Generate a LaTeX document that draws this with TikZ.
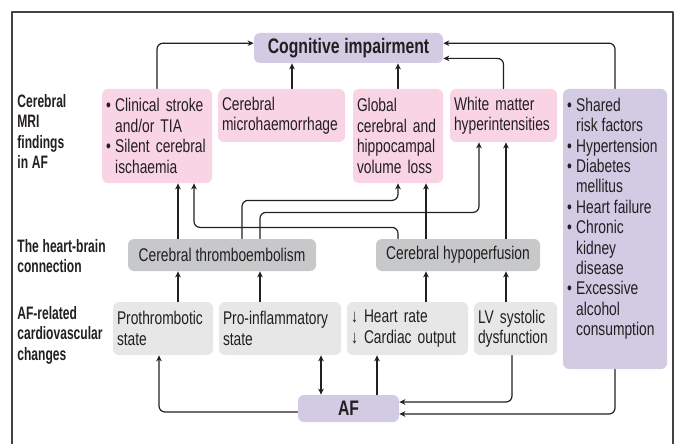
\documentclass[tikz,border=0pt]{standalone}
\usepackage{fontspec}
\setmainfont{Liberation Sans}[FakeStretch=0.75]
\newfontfamily\labfont{Liberation Sans}[FakeStretch=0.67]
\usetikzlibrary{arrows.meta}
\definecolor{lilac}{RGB}{211,202,228}
\definecolor{rose}{RGB}{249,212,228}
\definecolor{midgrey}{RGB}{199,200,201}
\definecolor{palegrey}{RGB}{231,231,232}
\definecolor{ink}{RGB}{35,31,32}
\hyphenpenalty=10000
\hbadness=10000
\newcommand\boxfont{\fontsize{9.2}{10.2}\selectfont\spaceskip=2pt plus 0.5pt\relax}
\newcommand\headfont{\bfseries\fontsize{10.5}{12}\selectfont\spaceskip=2.4pt plus 0.5pt\relax}
\newcommand\rowfont{\labfont\bfseries\fontsize{9}{10.25}\selectfont\spaceskip=1.9pt plus 0.5pt\relax}
\newcommand\bul{\textbullet\hspace{2.2pt}}
\newcommand\ind{\hphantom{\bul}}
\begin{document}
\begin{tikzpicture}[x=0.5pt, y=-0.5pt, line join=round, line cap=round, >={Stealth[length=3pt,width=2.8pt]},
	every node/.style={text=ink},
	txt/.style={font=\boxfont},
	card/.style n args={3}{fill=#1, rounded corners=3pt, text width=#2, minimum height=#3, inner xsep=2pt, inner ysep=0pt, align=left, txt},
	link/.style={fill=midgrey, rounded corners=3pt, inner sep=0pt, minimum height=16pt, txt},
	head/.style={fill=lilac, rounded corners=3pt, inner sep=0pt, font=\headfont},
	lab/.style={anchor=north west, inner sep=0pt, align=left, font=\rowfont},
	conn/.style={->, draw=ink, line width=0.6pt, rounded corners=3pt}]
	\useasboundingbox (0,0) rectangle (680,444);
	% frame
	\draw[ink!85, line width=0.7pt] (12,450) |- (673,12) -- (673,450);
	% row labels
	\node[lab] (mri) at (17,94) {Cerebral\\MRI\\findings\\in AF};
	\node[lab] (hb) at (17,239) {The heart-brain\\connection};
	\node[lab] (cv) at (17,306) {AF-related\\cardiovascular\\changes};
	% outcome and source
	\node[head, minimum width=94.5pt, minimum height=15pt] (cog) at (348.5,48) {Cognitive impairment};
	\node[head, minimum width=50.5pt, minimum height=13.5pt] (af) at (348.5,408.5) {AF};
	% MRI findings
	\node[card={rose}{51pt}{47pt}] (stroke) at (157,136) {\bul Clinical stroke\\\ind and/or TIA\\\bul Silent cerebral\\\ind ischaemia};
	\node[card={rose}{59.5pt}{26.5pt}] (micro) at (281.5,115.5) {Cerebral\\microhaemorrhage};
	\node[card={rose}{41pt}{47pt}] (volume) at (398,136) {Global\\cerebral and\\hippocampal\\volume loss};
	\node[card={rose}{49.5pt}{26.5pt}] (white) at (503.5,115.5) {White matter\\hyperintensities};
	\node[fill=lilac, rounded corners=3pt, inner xsep=2pt, inner ysep=4.5pt, txt] (risk) at (615,229)
		{\parbox[c][131pt][t]{48pt}{\raggedright
			\bul Shared\\\ind risk factors\\\bul Hypertension\\\bul Diabetes\\\ind mellitus\\
			\bul Heart failure\\\bul Chronic\\\ind kidney\\\ind disease\\
			\bul Excessive\\\ind alcohol\\\ind consumption}};
	% heart-brain connection
	\node[link, minimum width=94pt] (embol) at (222,255) {Cerebral thromboembolism};
	\node[link, minimum width=82pt] (hypo) at (458,255) {Cerebral hypoperfusion};
	% cardiovascular changes
	\node[card={palegrey}{46pt}{26.5pt}] (proth) at (163,328.5) {Prothrombotic\\state};
	\node[card={palegrey}{57pt}{26.5pt}] (proinf) at (280,328.5) {Pro-inflammatory\\state};
	\node[card={palegrey}{56.5pt}{26.5pt}] (heart) at (407.5,328.5) {↓ Heart rate\\↓ Cardiac output};
	\node[card={palegrey}{37.5pt}{26.5pt}] (lvsys) at (515.5,328.5) {LV systolic\\dysfunction};
	% connector columns
	\coordinate (ca) at (178,0);
	\coordinate (cb) at (194,0);
	\coordinate (cc) at (242,0);
	\coordinate (cd) at (260,0);
	\coordinate (ce) at (398,0);
	\coordinate (cf) at (426,0);
	\coordinate (cg) at (479,0);
	\coordinate (ch) at (506,0);
	\coordinate (ci) at (159,0);
	\coordinate (cj) at (321,0);
	\coordinate (ck) at (377,0);
	\coordinate (cl) at (512,0);
	\coordinate (cm) at (292,0);
	% into cognitive impairment
	\draw[conn] (stroke.north) |- ([yshift=2.4pt]cog.west);
	\draw[conn] (micro.north -| cm) -- (cog.south -| cm);
	\draw[conn] (volume.north) -- (cog.south -| volume.north);
	\draw[conn] (white.north) |- ([yshift=-5.2pt]cog.east);
	\draw[conn] (risk.north) |- ([yshift=2.4pt]cog.east);
	% heart-brain to MRI findings
	\draw[conn] (embol.north -| ca) -- (stroke.south -| ca);
	\draw[conn] (embol.north -| cc) |- ([yshift=-8.5pt]volume.south) -- (volume.south);
	\draw[conn] (embol.north -| cd) |- ([yshift=-35pt]white.south -| cg) -- (white.south -| cg);
	\draw[conn] (hypo.north -| ce) |- ([yshift=-22pt]stroke.south -| cb) -- (stroke.south -| cb);
	\draw[conn] (hypo.north -| cf) -- (volume.south -| cf);
	\draw[conn] (hypo.north -| ch) -- (white.south -| ch);
	% cardiovascular changes to heart-brain
	\draw[conn] (proth.north -| ca) -- (embol.south -| ca);
	\draw[conn] (proinf.north -| cd) -- (embol.south -| cd);
	\draw[conn] (heart.north -| cf) -- (hypo.south -| cf);
	\draw[conn] (lvsys.north -| ch) -- (hypo.south -| ch);
	% AF
	\draw[conn] ([yshift=-1.75pt]af.west) -| (proth.south -| ci);
	\draw[conn, <->] (proinf.south -| cj) -- (af.north -| cj);
	\draw[conn] (af.north -| ck) -- (heart.south -| ck);
	\draw[conn] (lvsys.south -| cl) |- ([yshift=3.25pt]af.east);
	\draw[conn] (risk.south) |- ([yshift=-2.75pt]af.east);
\end{tikzpicture}
\end{document}
